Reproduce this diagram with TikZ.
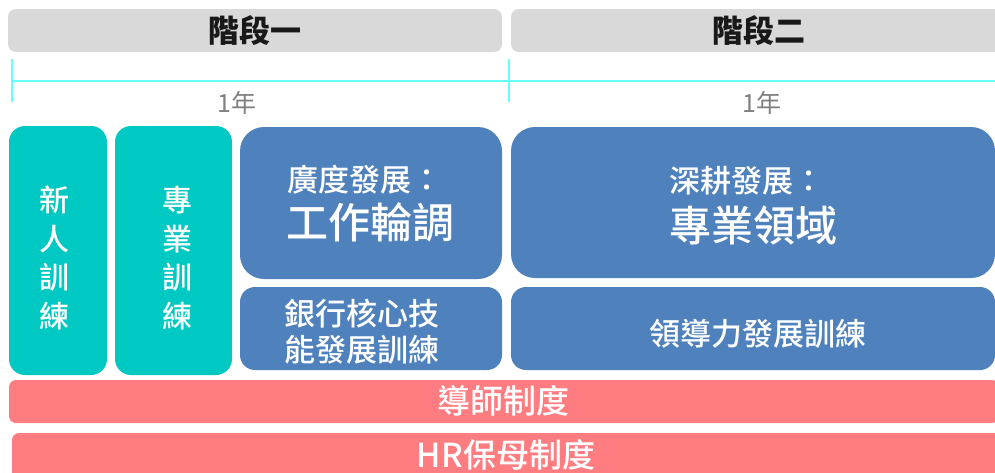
\documentclass[tikz,border=0pt]{standalone}
\usepackage{fontspec}
\setmainfont{Noto Sans CJK TC}
\newfontfamily\medfont{Noto Sans CJK TC}[UprightFont=* Medium, BoldFont=* Bold]
\definecolor{phasegray}{HTML}{D9D9D9}
\definecolor{tealbox}{HTML}{00C8C3}
\definecolor{bluebox}{HTML}{4F81BD}
\definecolor{pinkbox}{HTML}{FF7C80}
\definecolor{tickcyan}{HTML}{66FFFF}
\definecolor{yeargray}{HTML}{808080}
\begin{document}
\begin{tikzpicture}[
    x=1pt, y=-1pt,
    phase/.style={fill=phasegray, rounded corners=8pt, inner sep=0pt, text=black!90, font=\bfseries\fontsize{31}{36}\selectfont},
    tick/.style={draw=tickcyan, line width=1.3pt},
    year/.style={text=yeargray, inner sep=0pt, font=\fontsize{25}{30}\selectfont},
    basic/.style={fill=tealbox, rounded corners=16pt, inner sep=0pt},
    blue/.style={fill=bluebox, inner sep=0pt},
    pink/.style={fill=pinkbox, rounded corners=7pt, inner sep=0pt},
    label/.style={text=white, inner sep=0pt, font=\medfont\fontsize{31}{36}\selectfont},
    biglabel/.style={text=white, inner sep=0pt, font=\medfont\fontsize{42}{48}\selectfont}
]
    \useasboundingbox (0,0) rectangle (995,472);
    \clip (0,0) rectangle (995,472);

    % phases
    \node[phase, minimum width=494pt, minimum height=43pt] (p1) at (255,30.5) {階段一};
    \node[phase, minimum width=496pt, minimum height=43pt] (p2) at (759,30.5) {階段二};

    % time line
    \coordinate (t0) at (12,81);
    \coordinate (t1) at (509,81);
    \coordinate (tend) at (1000,81);
    \draw[tick] (t0) -- (tend);
    \draw[tick] ([yshift=22pt]t0) -- ([yshift=-21pt]t0);
    \draw[tick] ([yshift=22pt]t1) -- ([yshift=-21pt]t1);
    \node[year] (y1) at (237,103) {1年};
    \node[year] (y2) at (762,103) {1年};

    % basic training
    \node[basic, minimum width=98pt, minimum height=249pt] (new) at (58,250.5) {};
    \node[basic, minimum width=117pt, minimum height=249pt] (pro) at (173.5,250.5) {};
    \node[label, align=center, font=\medfont\fontsize{30}{38.7}\selectfont] (newt) at (54,258) {新\\人\\訓\\練};
    \node[label, align=center, font=\medfont\fontsize{30}{38.7}\selectfont] (prot) at (177,258) {專\\業\\訓\\練};

    % stage one
    \node[blue, rounded corners=24pt, minimum width=262pt, minimum height=152pt] (wide) at (371,203) {};
    \node[label, anchor=west] (widet) at (287,180) {廣度發展：};
    \node[biglabel, anchor=west] (wideb) at (286,222) {工作輪調};
    \node[blue, rounded corners=15pt, minimum width=262pt, minimum height=83pt] (core) at (371,328.5) {};
    \node[label, align=left, font=\medfont\fontsize{31}{36}\selectfont] (coret) at (362,331.5) {銀行核心技\\能發展訓練};

    % stage two
    \node[blue, rounded corners=24pt, minimum width=484pt, minimum height=151pt] (deep) at (753,202.5) {};
    \node[label, anchor=west] (deept) at (669,181) {深耕發展：};
    \node[biglabel, anchor=west] (deepb) at (669,225) {專業領域};
    \node[blue, rounded corners=15pt, minimum width=484pt, minimum height=83pt] (lead) at (753,328.5) {};
    \node[label] (leadt) at (758,334) {領導力發展訓練};

    % mentors
    \node[pink, minimum width=990pt, minimum height=43pt] (mentor) at (504,401.5) {};
    \node[label, font=\medfont\fontsize{33}{38}\selectfont] (mentort) at (503,401) {導師制度};
    \node[pink, minimum width=990pt, minimum height=50pt] (hr) at (507,458) {};
    \node[label, font=\medfont\fontsize{33}{38}\selectfont] (hrt) at (506,455) {HR保母制度};
\end{tikzpicture}
\end{document}
